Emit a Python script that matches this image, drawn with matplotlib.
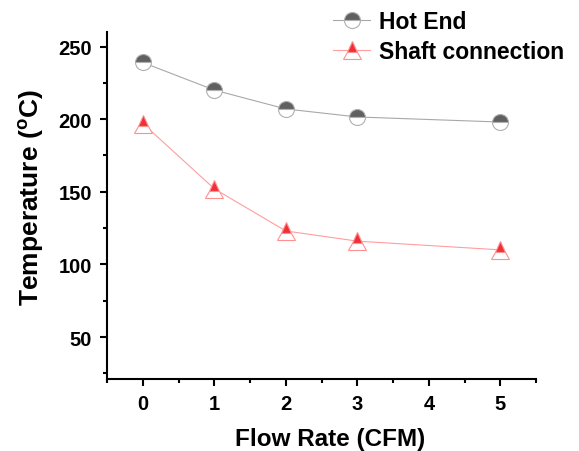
import matplotlib.pyplot as plt
import numpy as np

plt.rcParams['font.family'] = ['Liberation Sans', 'DejaVu Sans']
plt.rcParams['font.weight'] = 'bold'

# data
flow = [0, 1, 2, 3, 5]
hot_end = [239, 220, 207, 201.5, 198]
shaft = [197, 152, 123, 116, 110]

fig = plt.figure(figsize=(5.79, 4.52), dpi=100)
ax = fig.add_axes([0.185, 0.159, 0.741, 0.768])

ax.plot(flow, hot_end, color='#a8a8a8', lw=0.8, marker='o', markersize=11.5,
        fillstyle='top', markerfacecolor='#606060', markerfacecoloralt='white',
        markeredgecolor='#b0b0b0', markeredgewidth=0.8, label='Hot End')
ax.plot(flow, shaft, color='#ff9e9e', lw=0.8, marker='^', markersize=12.5,
        fillstyle='top', markerfacecolor='#f03038', markerfacecoloralt='white',
        markeredgecolor='#ff9090', markeredgewidth=0.8, label='Shaft connection')

ax.set_xlim(-0.5, 5.5)
ax.set_ylim(21, 260)
ax.set_xticks([0, 1, 2, 3, 4, 5])
ax.set_xticks(np.arange(-0.5, 5.6, 0.5), minor=True)
ax.set_yticks([50, 100, 150, 200, 250])
ax.set_yticks([25, 75, 125, 175, 225], minor=True)

for s in ['top', 'right']:
    ax.spines[s].set_visible(False)
for s in ['left', 'bottom']:
    ax.spines[s].set_linewidth(1.5)
ax.tick_params(which='major', direction='out', length=5, width=1.5, labelsize=14.5, pad=6)
ax.tick_params(which='minor', direction='out', length=3, width=1.5)

ax.set_xlabel('Flow Rate (CFM)', fontsize=17.5, fontweight='bold', labelpad=10)
ax.xaxis.label.set_x(0.52)
ax.set_ylabel('Temperature ($\\mathregular{^o}$C)', fontsize=19, fontweight='bold', labelpad=9)
ax.yaxis.label.set_y(0.525)

fig.legend(loc='upper left', bbox_to_anchor=(0.548, 1.012), frameon=False,
           fontsize=16.5, handlelength=1.6, handletextpad=0.4, labelspacing=0.33,
           borderaxespad=0.3)

fig.savefig('out.png', dpi=100)
